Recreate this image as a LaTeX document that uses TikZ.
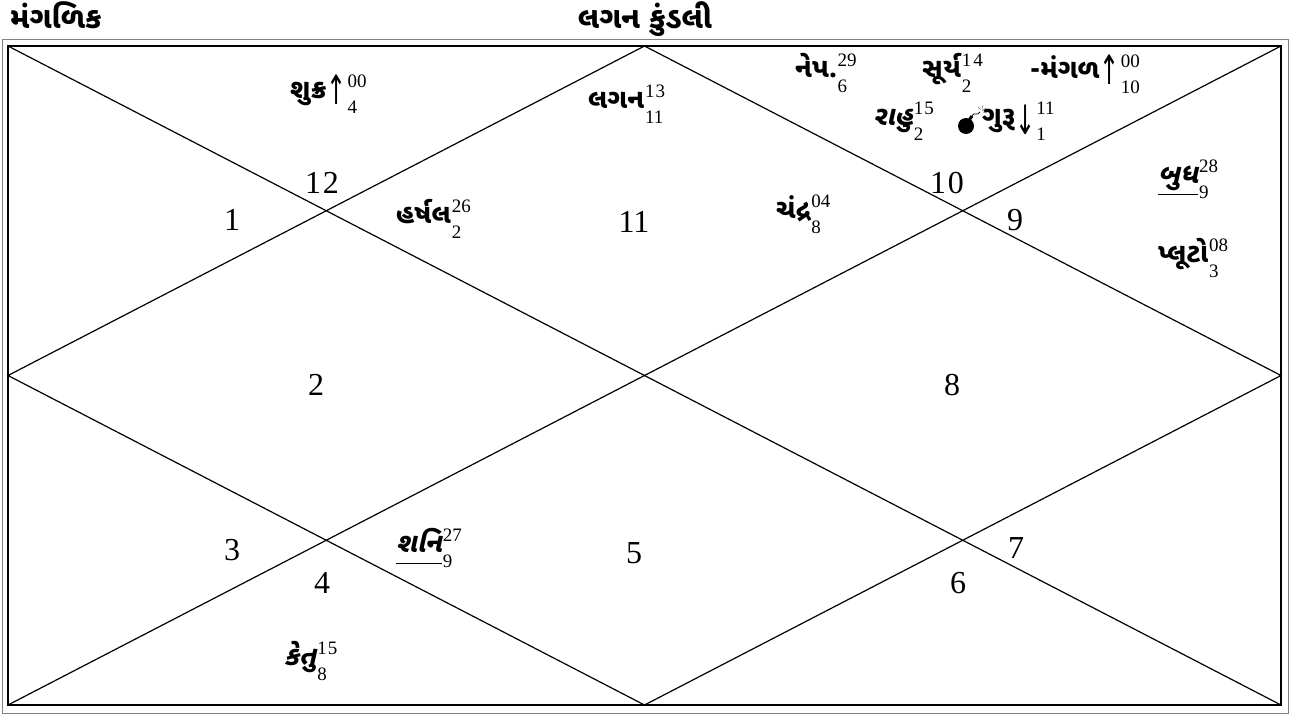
\documentclass[tikz,border=0pt]{standalone}
\usepackage{fontspec}
\usepackage{graphicx}
\setmainfont{Liberation Serif}
\newfontfamily\gj[Script=Gujarati]{Noto Sans Gujarati UI}
\newfontfamily\gjit[Script=Gujarati,FakeSlant=0.22]{Noto Sans Gujarati UI}
\newfontfamily\arf{DejaVu Sans}
\newcommand\nf{\fontsize{19}{19}\selectfont\rmfamily\mdseries\upshape}
\newcommand\ps[2]{\kern1pt\rlap{\raisebox{11pt}{\nf #1}}\raisebox{-15pt}{\nf #2}}
\newsavebox\ulbox
\newcommand\ulname[1]{\sbox\ulbox{#1}\rlap{\raisebox{-12pt}{\rule{\wd\ulbox}{1pt}}}\usebox\ulbox}
\newcommand\arup{\raisebox{-6pt}{\scalebox{0.8}[1.35]{\fontsize{30}{30}\selectfont\arf\mdseries ↑}}}
\newcommand\ardn{\raisebox{-9pt}{\scalebox{0.8}[1.35]{\fontsize{30}{30}\selectfont\arf\mdseries ↓}}}
\tikzset{
  frame/.style={line width=2pt},
  outer/.style={draw=gray, line width=1.2pt},
  divline/.style={line width=1.2pt},
  hnum/.style={inner sep=0pt, font=\fontsize{32}{32}\selectfont\rmfamily},
  pname/.style={inner sep=0pt, anchor=base west, font=\fontsize{27}{30}\selectfont\gj\bfseries},
  pit/.style={inner sep=0pt, anchor=base west, font=\fontsize{27}{30}\selectfont\gjit\bfseries},
  ttl/.style={inner sep=0pt, anchor=base west, font=\fontsize{30}{32}\selectfont\gj\bfseries}
}
\begin{document}
\begin{tikzpicture}[x=1pt,y=-1pt]
\useasboundingbox (0,0) rectangle (1310,715);
% frames
\draw[outer] (2.5,39.5) rectangle (1288.5,713.5);
\coordinate (tl) at (8,46);
\coordinate (tr) at (1281,46);
\coordinate (br) at (1281,705);
\coordinate (bl) at (8,705);
\coordinate (tm) at (644.5,46);
\coordinate (rm) at (1281,375.5);
\coordinate (bm) at (644.5,705);
\coordinate (lm) at (8,375.5);
\draw[frame] (tl) rectangle (br);
\draw[divline] (tl) -- (br);
\draw[divline] (tr) -- (bl);
\draw[divline] (tm) -- (rm) -- (bm) -- (lm) -- cycle;
% titles
\node[ttl] (t1) at (10,28) {મંગળિક};
\node[ttl, anchor=base] (t2) at (645,28) {લગન કુંડલી};
% house numbers
\node[hnum] (h1) at (232,220) {1};
\node[hnum] (h12) at (322,183) {1\kern2pt2};
\node[hnum] (h11) at (634,222) {11};
\node[hnum] (h10) at (947,183) {1\kern2pt0};
\node[hnum] (h9) at (1015,220) {9};
\node[hnum] (h2) at (316,385) {2};
\node[hnum] (h8) at (952,385) {8};
\node[hnum] (h3) at (232,550) {3};
\node[hnum] (h4) at (322,583) {4};
\node[hnum] (h5) at (634,553) {5};
\node[hnum] (h6) at (958,583) {6};
\node[hnum] (h7) at (1016,548) {7};
% planets
\node[pname] (shukra) at (290,98) {શુક્ર\arup\ps{00}{4}};
\node[pname] (lagna) at (588,108) {લગન\ps{1\kern1pt3}{11}};
\node[pname] (nep) at (795,77) {નેપ.\ps{29}{6}};
\node[pname] (surya) at (922,77) {સૂર્ય\ps{1\kern2pt4}{2}};
\node[pname] (mangal) at (1030,78) {-મંગળ\arup\ps{00}{10}};
\node[pit] (rahu) at (873,125) {રાહુ\ps{1\kern1pt5}{2}};
\node[pname] (guru) at (982,125) {ગુરૂ\ardn\ps{11}{1}};
\node[pit] (budh) at (1158,183) {\ulname{બુધ}\ps{28}{9}};
\node[pname] (pluto) at (1158,262) {પ્લૂટો\ps{08}{3}};
\node[pname] (harshal) at (396,223) {હર્ષલ\ps{26}{2}};
\node[pname] (chandra) at (776,218) {ચંદ્ર\ps{04}{8}};
\node[pit] (shani) at (396,552) {\ulname{શનિ}\ps{27}{9}};
\node[pit] (ketu) at (284,665) {કેતુ\ps{1\kern1pt5}{8}};
% bomb symbol
\fill (966,126) circle (8);
\draw[line width=3pt] (969.5,119.5) -- (972,116);
\draw[line width=0.8pt] (972,116) .. controls (974,111) and (977,117) .. (980,112);
\draw[gray, line width=0.6pt] (982,111) -- (986,108) (982,109) -- (983,105) (983,112) -- (987,113) (981,110) -- (978,107);
\end{tikzpicture}
\end{document}
